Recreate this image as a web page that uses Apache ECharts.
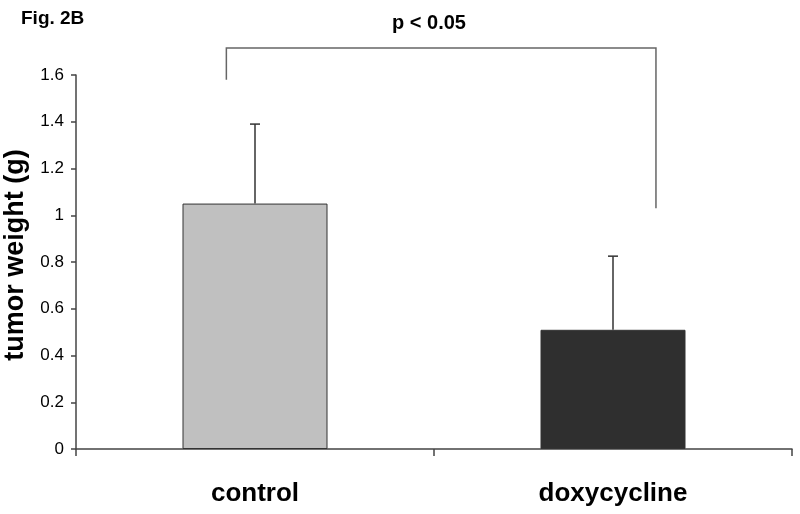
<!DOCTYPE html>
<html><head><meta charset="utf-8">
<script src="https://cdn.jsdelivr.net/npm/echarts@6/dist/echarts.min.js"></script>
<style>html,body{margin:0;padding:0;background:#fff}#c{width:800px;height:514px}</style>
</head><body><div id="c"></div>
<script>
const categories = ['control', 'doxycycline'];
const means = [1.05, 0.51];
const errTops = [1.39, 0.825];
const barColors = ['#c0c0c0', '#2f2f2f'];
const yTicks = [0, 0.2, 0.4, 0.6, 0.8, 1, 1.2, 1.4, 1.6];
// bracket: [category index, offset as fraction of band, y value of end]
const bracketLeft = [0, -0.08, 1.58];
const bracketRight = [1, 0.12, 1.03];
const bracketTopY = 1.716;
const pLabel = 'p < 0.05';

const chart = echarts.init(document.getElementById('c'), null, {renderer: 'canvas'});
const font = 'Arial, "Liberation Sans", sans-serif';
chart.setOption({
  animation: false,
  backgroundColor: '#fff',
  grid: {left: 76, right: 8, top: 75, bottom: 65, containLabel: false, outerBoundsMode: 'none'},
  title: [
    {text: 'Fig. 2B', left: 16, top: 4, textStyle: {fontFamily: font, fontWeight: 'bold', fontSize: 19, color: '#000'}},
    {text: pLabel, left: 424, top: 8, textAlign: 'center', textStyle: {fontFamily: font, fontWeight: 'bold', fontSize: 20, color: '#000'}}
  ],
  xAxis: {
    type: 'category', data: categories, boundaryGap: true,
    axisLine: {lineStyle: {color: '#444', width: 1.5}},
    axisTick: {show: true, alignWithLabel: false, length: 7, lineStyle: {color: '#444', width: 1.5}},
    axisLabel: {fontFamily: font, fontWeight: 'bold', fontSize: 26, color: '#000', margin: 32}
  },
  yAxis: {
    type: 'value', min: 0, max: 1.6, interval: 0.2,
    name: 'tumor weight (g)', nameLocation: 'middle', nameGap: 43, nameRotate: 90,
    nameTextStyle: {fontFamily: font, fontWeight: 'bold', fontSize: 27, color: '#000', padding: [0, 0, 0, 14]},
    axisLine: {show: true, lineStyle: {color: '#444', width: 1.5}},
    axisTick: {show: true, length: 5, lineStyle: {color: '#444', width: 1.5}},
    splitLine: {show: false},
    axisLabel: {fontFamily: font, fontSize: 17, color: '#000', margin: 12,
      formatter: v => { const t = yTicks.find(x => Math.abs(x - v) < 1e-9); return t === undefined ? '' : String(t); }}
  },
  series: [
    {
      type: 'bar', barWidth: 145,
      data: means.map((v, i) => ({value: v, itemStyle: {color: barColors[i], borderColor: '#333', borderWidth: 1}})),
      z: 2
    },
    {
      type: 'custom', z: 3,
      data: means.map((v, i) => [i, v, errTops[i]]),
      renderItem: (params, api) => {
        const b = api.coord([api.value(0), api.value(1)]);
        const t = api.coord([api.value(0), api.value(2)]);
        return {type: 'group', children: [
          {type: 'line', shape: {x1: b[0], y1: b[1], x2: t[0], y2: t[1]}, style: {stroke: '#333', lineWidth: 1.5}},
          {type: 'line', shape: {x1: t[0] - 5, y1: t[1], x2: t[0] + 5, y2: t[1]}, style: {stroke: '#333', lineWidth: 1.5}}
        ]};
      }
    },
    {
      type: 'custom', z: 3, clip: false,
      data: [[bracketLeft[0], bracketLeft[1], bracketLeft[2], bracketRight[0], bracketRight[1], bracketRight[2], bracketTopY]],
      renderItem: (params, api) => {
        const band = api.size([1, 0])[0];
        const l = api.coord([api.value(0), api.value(2)]);
        const r = api.coord([api.value(3), api.value(5)]);
        const top = api.coord([api.value(0), api.value(6)])[1];
        const lx = l[0] + api.value(1) * band;
        const rx = r[0] + api.value(4) * band;
        return {type: 'polyline', shape: {points: [[lx, l[1]], [lx, top], [rx, top], [rx, r[1]]]},
          style: {stroke: '#666', lineWidth: 1.5, fill: null}};
      }
    }
  ]
});
</script></body></html>
